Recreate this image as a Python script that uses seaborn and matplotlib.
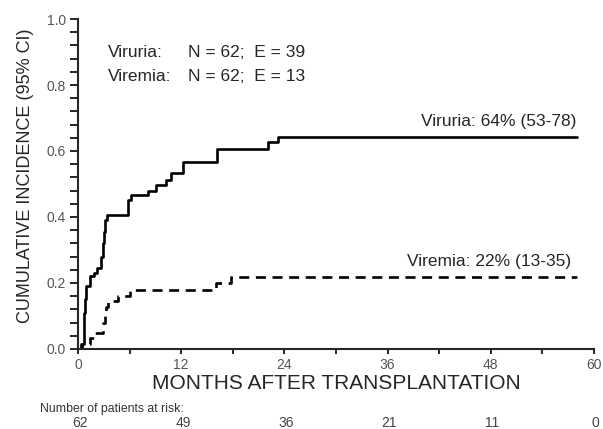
import numpy as np
import matplotlib
matplotlib.use("Agg")
import matplotlib.pyplot as plt
from matplotlib.ticker import MultipleLocator
import pandas as pd
import seaborn as sns

# step points (months, cumulative incidence)
viruria_months = [0, 0.45, 0.65, 0.75, 0.85, 0.95, 1.4, 1.8, 2.2, 2.65, 2.85, 3.0, 3.15, 3.35,
                  5.8, 6.2, 8.1, 9.1, 10.2, 10.8, 12.2, 16.2, 22.1, 23.3, 58]
viruria_inc = [0, 0.016, 0.06, 0.11, 0.15, 0.19, 0.22, 0.23, 0.245, 0.28, 0.32, 0.355, 0.39, 0.406,
               0.45, 0.467, 0.48, 0.497, 0.512, 0.532, 0.567, 0.606, 0.628, 0.643, 0.643]
viremia_months = [0, 0.3, 1.4, 2.0, 2.9, 3.1, 3.3, 3.5, 4.7, 6.0, 16.1, 17.8, 58]
viremia_inc = [0, 0.016, 0.032, 0.048, 0.08, 0.11, 0.128, 0.145, 0.16, 0.178, 0.2, 0.217, 0.217]

risk_months = [0, 12, 24, 36, 48, 60]
at_risk = [62, 49, 36, 21, 11, 0]

df = pd.concat([
    pd.DataFrame({'month': viruria_months, 'inc': viruria_inc, 'group': 'Viruria'}),
    pd.DataFrame({'month': viremia_months, 'inc': viremia_inc, 'group': 'Viremia'}),
])

sns.set_style('ticks')
plt.rcParams['font.family'] = ['Liberation Sans', 'DejaVu Sans']

fig = plt.figure(figsize=(6.03, 4.29), dpi=100)
ax = fig.add_axes([0.1294, 0.1865, 0.8557, 0.7692])

sns.lineplot(data=df, x='month', y='inc', hue='group', style='group',
             palette={'Viruria': 'black', 'Viremia': 'black'},
             dashes={'Viruria': '', 'Viremia': (3.8, 2.5)},
             estimator=None, drawstyle='steps-post', linewidth=1.9,
             legend=False, ax=ax)

ax.set_xlim(0, 60)
ax.set_ylim(0, 1.0)
ax.xaxis.set_major_locator(MultipleLocator(12))
ax.xaxis.set_minor_locator(MultipleLocator(6))
ax.yaxis.set_major_locator(MultipleLocator(0.2))
ax.yaxis.set_minor_locator(MultipleLocator(0.04))
ax.yaxis.set_major_formatter(plt.FuncFormatter(lambda v, p: f'{v:.1f}'))
ax.tick_params(which='both', direction='out', width=1.2, color='black',
               labelsize=10, labelcolor='#555555')
ax.tick_params(axis='y', which='both', length=5.5, pad=3)
ax.tick_params(axis='x', which='both', length=3.5, pad=3)
sns.despine(ax=ax)
for s in ['left', 'bottom']:
    ax.spines[s].set_linewidth(1.5)
ax.set_xlabel('MONTHS AFTER TRANSPLANTATION', fontsize=15, labelpad=1.5)
ax.set_ylabel('CUMULATIVE INCIDENCE (95% CI)', fontsize=13)
ax.yaxis.set_label_coords(-0.086, 0.524)

ax.text(0.057, 0.9, 'Viruria:', transform=ax.transAxes, fontsize=12.5, va='center')
ax.text(0.057, 0.825, 'Viremia:', transform=ax.transAxes, fontsize=12.5, va='center')
ax.text(0.213, 0.9, 'N = 62;  E = 39', transform=ax.transAxes, fontsize=12.5, va='center')
ax.text(0.213, 0.825, 'N = 62;  E = 13', transform=ax.transAxes, fontsize=12.5, va='center')
ax.text(57.9, 0.688, 'Viruria: 64% (53-78)', ha='right', va='center', fontsize=12.5)
ax.text(57.3, 0.264, 'Viremia: 22% (13-35)', ha='right', va='center', fontsize=12.5)

fig.text(0.066, 0.0466, 'Number of patients at risk:', fontsize=8.8, color='#333333', va='center')
for m, n in zip(risk_months, at_risk):
    ax.text(m + 0.2, -0.224, str(n), transform=ax.get_xaxis_transform(), ha='center',
            va='center', fontsize=10, color='#444444')

fig.savefig('out.png', dpi=100)
